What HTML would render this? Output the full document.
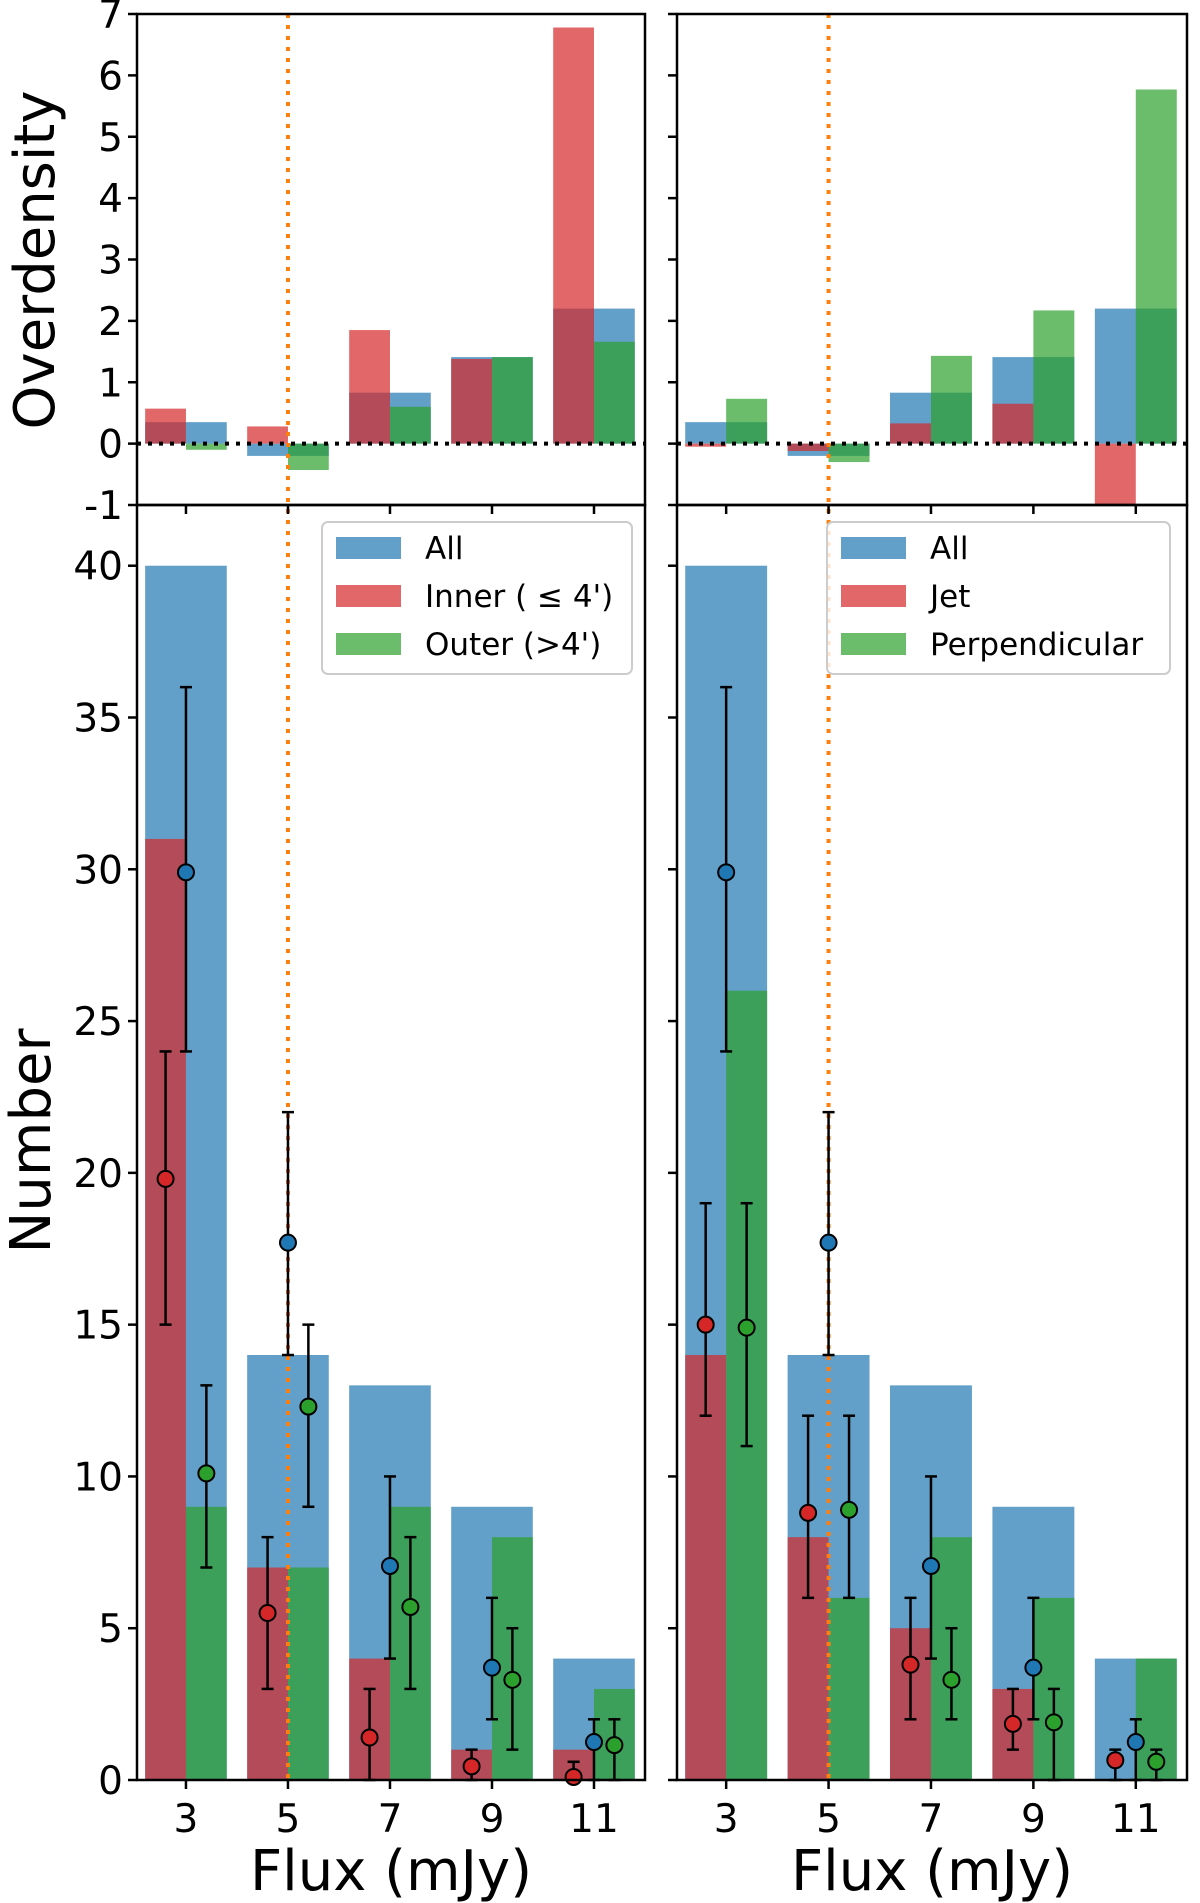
<!DOCTYPE html>
<html><head><meta charset="utf-8"><style>
body{margin:0;background:#fff}
svg{display:block;font-family:"DejaVu Sans","Liberation Sans",sans-serif}
</style></head><body>
<svg id="fig" width="1200" height="1903" viewBox="0 0 1200 1903" xmlns="http://www.w3.org/2000/svg"></svg>
<script>
const fluxBins=[3,5,7,9,11];
const odAll=[0.35,-0.2,0.83,1.41,2.2];
const odInner=[0.57,0.28,1.85,1.38,6.78];
const odOuter=[-0.1,-0.43,0.6,1.41,1.66];
const odJet=[-0.05,-0.12,0.33,0.65,-1.2];
const odPerp=[0.73,-0.3,1.43,2.17,5.77];
const nAll=[40,14,13,9,4];
const nInner=[31,7,4,1,1];
const nOuter=[9,7,9,8,3];
const nJet=[14,8,5,3,0];
const nPerp=[26,6,8,6,4];
const ptAll=[29.9,17.7,7.05,3.7,1.25];
const ptAllLo=[24,14,4,2,0];
const ptAllHi=[36,22,10,6,2];
const ptInner=[19.8,5.5,1.4,0.45,0.1];
const ptInnerLo=[15,3,0,0,0];
const ptInnerHi=[24,8,3,1,0.6];
const ptOuter=[10.1,12.3,5.7,3.3,1.15];
const ptOuterLo=[7,9,3,1,0];
const ptOuterHi=[13,15,8,5,2];
const ptJet=[15,8.8,3.8,1.85,0.65];
const ptJetLo=[12,6,2,1,0];
const ptJetHi=[19,12,6,3,1];
const ptPerp=[14.9,8.9,3.3,1.9,0.6];
const ptPerpLo=[11,6,2,0,0];
const ptPerpHi=[19,12,5,3,1];
const odTicks=[-1,0,1,2,3,4,5,6,7];
const nTicks=[0,5,10,15,20,25,30,35,40];
const xTickLabels=["3","5","7","9","11"];

const NS="http://www.w3.org/2000/svg";
const svg=document.getElementById('fig');
function mk(tag,attrs,parent){const e=document.createElementNS(NS,tag);for(const k in attrs)e.setAttribute(k,attrs[k]);(parent||svg).appendChild(e);return e;}

const C={blue:'#1f77b4',red:'#d62728',green:'#2ca02c'};
const fill={blue:'rgba(31,119,180,0.7)',red:'rgba(214,39,40,0.7)',green:'rgba(44,160,44,0.7)'};
const topY0=14,topY1=505,botY1=1780;
const odY=v=>topY1-(v+1)*(topY1-topY0)/8;
const nY=v=>botY1-v*(botY1-topY1)/42;
const panels=[
 {x0:137,x1:645,name:'left',od:[odAll,odInner,odOuter],n:[nAll,nInner,nOuter],
  pts:[[ptInner,ptInnerLo,ptInnerHi,'red',-0.4],[ptAll,ptAllLo,ptAllHi,'blue',0],[ptOuter,ptOuterLo,ptOuterHi,'green',0.4]],
  leg:['All','Inner ( \u2264 4\')','Outer (>4\')'],lx:322,lw:310,labels:true},
 {x0:677,x1:1187,name:'right',od:[odAll,odJet,odPerp],n:[nAll,nJet,nPerp],
  pts:[[ptJet,ptJetLo,ptJetHi,'red',-0.4],[ptAll,ptAllLo,ptAllHi,'blue',0],[ptPerp,ptPerpLo,ptPerpHi,'green',0.4]],
  leg:['All','Jet','Perpendicular'],lx:827,lw:343,labels:false}
];
panels.forEach(p=>{
 const X=v=>p.x0+(v-2.04)*(p.x1-p.x0)/(12-2.04);
 const g=mk('g',{});
 
 
 const clipId='clip-'+p.name;
 const cp=mk('clipPath',{id:clipId},g);mk('rect',{x:p.x0,y:topY0,width:p.x1-p.x0,height:topY1-topY0},cp);
 const gt=mk('g',{'clip-path':'url(#'+clipId+')'},g);
 fluxBins.forEach((f,i)=>{
  const bars=[[p.od[0][i],f-0.8,1.6,'blue'],[p.od[1][i],f-0.8,0.8,'red'],[p.od[2][i],f,0.8,'green']];
  bars.forEach(b=>{const y=Math.min(odY(b[0]),odY(0)),h=Math.abs(odY(b[0])-odY(0));
   const r=mk('rect',{x:X(b[1]),y:y,width:X(b[1]+b[2])-X(b[1]),height:h,fill:fill[b[3]]},gt);
   
   });
 });
 mk('line',{x1:p.x0,x2:p.x1,y1:odY(0),y2:odY(0),stroke:'#000','stroke-width':4,'stroke-dasharray':'4 7'},gt);
 fluxBins.forEach((f,i)=>{
  const bars=[[p.n[0][i],f-0.8,1.6,'blue'],[p.n[1][i],f-0.8,0.8,'red'],[p.n[2][i],f,0.8,'green']];
  bars.forEach(b=>{if(b[0]<=0)return;
   const r=mk('rect',{x:X(b[1]),y:nY(b[0]),width:X(b[1]+b[2])-X(b[1]),height:nY(0)-nY(b[0]),fill:fill[b[3]]});
   
   });
 });
 mk('line',{x1:X(5),x2:X(5),y1:topY0,y2:botY1,stroke:'#ff7f0e','stroke-width':4,'stroke-dasharray':'4 7'});
 p.pts.forEach(s=>{
  fluxBins.forEach((f,i)=>{
   const x=X(f+s[4]);
   mk('line',{x1:x,x2:x,y1:nY(s[1][i]),y2:nY(s[2][i]),stroke:'#000','stroke-width':2.5});
   [s[1][i],s[2][i]].forEach(v=>mk('line',{x1:x-6,x2:x+6,y1:nY(v),y2:nY(v),stroke:'#000','stroke-width':2.5}));
   const c=mk('circle',{cx:x,cy:nY(s[0][i]),r:8,fill:C[s[3]],stroke:'#000','stroke-width':2});
   
   
  });
 });
 const lg=mk('g',{});
 
 
 mk('rect',{x:p.lx,y:522,width:p.lw,height:152,rx:6,fill:'rgba(255,255,255,0.8)',stroke:'#ccc','stroke-width':2},lg);
 ['blue','red','green'].forEach((c,k)=>{
  const cy=548+k*48;
  mk('rect',{x:p.lx+14,y:cy-11,width:65,height:22,fill:fill[c]},lg);
  const t=mk('text',{x:p.lx+103,y:cy+11,'font-size':31,fill:'#000'},lg);t.textContent=p.leg[k];
  
  
 });
 mk('rect',{x:p.x0,y:topY0,width:p.x1-p.x0,height:topY1-topY0,fill:'none',stroke:'#000','stroke-width':2.5});
 mk('rect',{x:p.x0,y:topY1,width:p.x1-p.x0,height:botY1-topY1,fill:'none',stroke:'#000','stroke-width':2.5});
 odTicks.forEach(v=>{const y=odY(v);mk('line',{x1:p.x0-9,x2:p.x0,y1:y,y2:y,stroke:'#000','stroke-width':2.5});
  if(p.labels){const t=mk('text',{x:p.x0-14,y:y+14,'font-size':39,'text-anchor':'end'});t.textContent=v;}});
 nTicks.forEach(v=>{const y=nY(v);mk('line',{x1:p.x0-9,x2:p.x0,y1:y,y2:y,stroke:'#000','stroke-width':2.5});
  if(p.labels){const t=mk('text',{x:p.x0-14,y:y+14,'font-size':39,'text-anchor':'end'});t.textContent=v;}});
 fluxBins.forEach((f,i)=>{const x=X(f);
  mk('line',{x1:x,x2:x,y1:topY1,y2:topY1+9,stroke:'#000','stroke-width':2.5});
  mk('line',{x1:x,x2:x,y1:botY1,y2:botY1+9,stroke:'#000','stroke-width':2.5});
  const t=mk('text',{x:x,y:1832,'font-size':39,'text-anchor':'middle'});t.textContent=xTickLabels[i];});
 const xl=mk('text',{x:(p.x0+p.x1)/2,y:1890,'font-size':56,'text-anchor':'middle'});xl.textContent='Flux (mJy)';
 
 
});
const yl1=mk('text',{x:0,y:0,'font-size':56,'text-anchor':'middle',transform:'translate(54,260) rotate(-90)'});yl1.textContent='Overdensity';


const yl2=mk('text',{x:0,y:0,'font-size':56,'text-anchor':'middle',transform:'translate(50,1141) rotate(-90)'});yl2.textContent='Number';


</script>
</body></html>
